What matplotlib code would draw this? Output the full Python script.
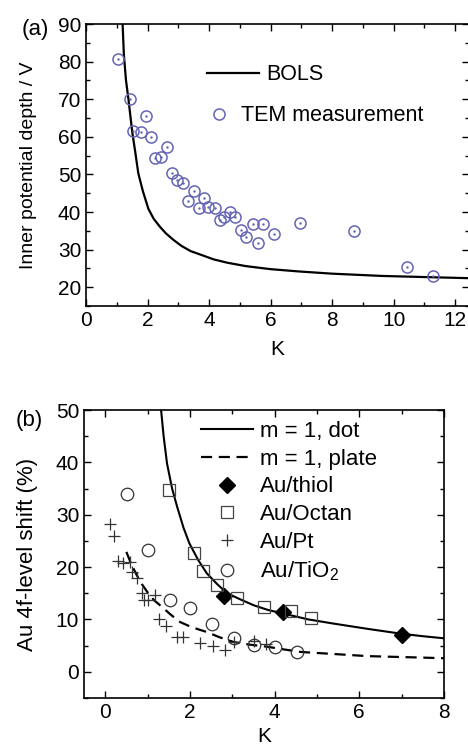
import matplotlib
matplotlib.use('Agg')
import matplotlib.pyplot as plt
from matplotlib.ticker import MultipleLocator

plt.rcParams['font.family'] = ['Liberation Sans', 'DejaVu Sans']
plt.rcParams['mathtext.default'] = 'regular'

# panel (a): TEM measurement
tem_k = [1.05, 1.43, 1.52, 1.78, 1.94, 2.1, 2.25, 2.43, 2.63, 2.81, 2.97, 3.15,
         3.5, 3.33, 3.66, 3.84, 3.98, 4.2, 4.34, 4.5, 4.69, 4.85, 5.04, 5.21,
         5.42, 5.58, 5.75, 6.1, 6.95, 8.71, 10.42, 11.28]
tem_v = [80.6, 70.0, 61.5, 61.3, 65.4, 60.0, 54.3, 54.5, 57.4, 50.5, 48.5, 47.8,
         45.6, 43.0, 41.1, 43.8, 41.2, 41.0, 38.0, 38.8, 39.9, 38.8, 35.2, 33.4,
         36.8, 31.8, 36.8, 34.1, 37.2, 35.0, 25.5, 23.0]
# BOLS curve
bols_k = [1.19, 1.23, 1.30, 1.38, 1.45, 1.51, 1.60, 1.70, 1.85, 2.03, 2.2, 2.4,
          2.6, 2.84, 3.1, 3.4, 3.71, 4.15, 4.6, 5.2, 6.0, 6.9, 8.0, 9.6, 11.0, 12.45]
bols_v = [90.0, 82.0, 75.0, 70.0, 65.0, 60.9, 56.0, 50.3, 45.5, 40.8, 38.2, 36.1,
          34.3, 32.6, 31.0, 29.6, 28.7, 27.4, 26.5, 25.6, 24.8, 24.2, 23.6, 23.0, 22.7, 22.4]

# panel (b)
thiol_k = [2.8, 4.2, 7.0]
thiol_v = [14.5, 11.5, 7.1]
octan_k = [1.50, 2.09, 2.31, 2.64, 3.11, 3.74, 4.39, 4.87]
octan_v = [34.7, 22.7, 19.2, 16.5, 14.1, 12.4, 11.6, 10.2]
pt_k = [0.12, 0.22, 0.31, 0.43, 0.59, 0.63, 0.75, 0.87, 0.91, 1.02, 1.18, 1.26,
        1.44, 1.69, 1.83, 2.23, 2.55, 2.82, 3.03, 3.51, 3.79]
pt_v = [28.2, 26.0, 21.2, 20.7, 21.0, 19.1, 18.0, 15.0, 13.7, 13.7, 14.6, 10.0,
        8.7, 6.7, 6.7, 5.5, 5.0, 4.1, 5.7, 5.9, 5.3]
tio2_k = [0.51, 1.02, 1.54, 2.01, 2.52, 3.03, 3.51, 4.02, 4.52]
tio2_v = [34.0, 23.2, 13.8, 12.1, 9.1, 6.4, 5.1, 4.8, 3.7]
dot_k = [1.32, 1.38, 1.46, 1.58, 1.70, 1.85, 1.99, 2.2, 2.40, 2.65, 2.88, 3.2,
         3.51, 3.85, 4.22, 4.8, 5.40, 6.2, 6.97, 7.5, 8.0]
dot_v = [50.0, 45.0, 39.8, 35.0, 31.5, 27.5, 24.5, 21.3, 18.8, 16.7, 15.0, 13.8,
         12.7, 11.8, 11.1, 10.0, 9.2, 8.2, 7.3, 6.8, 6.4]
plate_k = [0.50, 0.62, 0.75, 0.87, 0.99, 1.15, 1.34, 1.55, 1.77, 2.05, 2.40, 2.7,
           3.03, 3.4, 3.82, 4.2, 4.61, 5.4, 6.19, 7.1, 8.0]
plate_v = [22.9, 20.5, 18.4, 16.7, 15.3, 13.7, 12.4, 10.9, 9.5, 8.5, 7.6, 6.6,
           5.7, 5.2, 4.8, 4.3, 3.8, 3.4, 3.0, 2.8, 2.6]

fig = plt.figure(figsize=(4.68, 7.47), dpi=100)
ax1 = fig.add_axes([86/468, 1-306/747, 383/468, 282/747])
ax2 = fig.add_axes([84/468, 1-698/747, 360/468, 288/747])

blue = '#6464b4'
l_bols, = ax1.plot(bols_k, bols_v, '-', color='black', lw=1.6, label='BOLS')
l_tem, = ax1.plot(tem_k, tem_v, 'o', ms=8, mfc='none', mec=blue, mew=1.1, label='TEM measurement')
ax1.plot(tem_k, tem_v, '.', ms=1.5, color=blue)
ax1.set_xlim(0, 12.45)
ax1.set_ylim(15, 90)
ax1.xaxis.set_major_locator(MultipleLocator(2))
ax1.xaxis.set_minor_locator(MultipleLocator(1))
ax1.yaxis.set_major_locator(MultipleLocator(10))
ax1.yaxis.set_minor_locator(MultipleLocator(5))
ax1.set_xlabel('K', fontsize=15, labelpad=7)
ax1.set_ylabel('Inner potential depth / V', fontsize=14, labelpad=15)
# two legend rows placed separately, as in the original
leg1 = ax1.legend([l_bols], ['BOLS'], loc='upper left', bbox_to_anchor=(0.287, 0.895),
                  frameon=False, fontsize=15.5, borderpad=0, handlelength=2.45,
                  handletextpad=0.3)
ax1.add_artist(leg1)
ax1.legend([l_tem], ['TEM measurement'], loc='upper left', bbox_to_anchor=(0.294, 0.75),
           frameon=False, fontsize=15.5, borderpad=0, handlelength=0.9,
           handletextpad=0.55)
ax1.text(-0.133, 0.979, '(a)', transform=ax1.transAxes, fontsize=16, ha='center', va='center')

ax2.plot(dot_k, dot_v, '-', color='black', lw=1.5, label='m = 1, dot')
ax2.plot(plate_k, plate_v, color='black', lw=1.6, ls=(0, (5, 3)), label='m = 1, plate')
ax2.plot(thiol_k, thiol_v, 'D', ms=8, color='black', label='Au/thiol')
ax2.plot(octan_k, octan_v, 's', ms=8, mfc='none', mec='#444444', mew=0.9, label='Au/Octan')
ax2.plot(pt_k, pt_v, '+', ms=8, color='#333333', mew=0.9, label='Au/Pt')
ax2.plot(tio2_k, tio2_v, 'o', ms=9, mfc='none', mec='#333333', mew=0.9, label='Au/TiO$_2$')
ax2.set_xlim(-0.5, 8)
ax2.set_ylim(-5, 50)
ax2.xaxis.set_major_locator(MultipleLocator(2))
ax2.xaxis.set_minor_locator(MultipleLocator(1))
ax2.yaxis.set_major_locator(MultipleLocator(10))
ax2.yaxis.set_minor_locator(MultipleLocator(5))
ax2.set_xlabel('K', fontsize=15, labelpad=4)
ax2.set_ylabel('Au 4f-level shift (%)', fontsize=16, labelpad=13)
ax2.legend(loc='upper left', bbox_to_anchor=(0.294, 1.0), frameon=False, fontsize=16,
           borderpad=0, handlelength=2.35, handletextpad=0.3, labelspacing=0.3)
ax2.text(-0.153, 0.965, '(b)', transform=ax2.transAxes, fontsize=16, ha='center', va='center')

for ax in (ax1, ax2):
    ax.tick_params(which='both', direction='in', top=True, right=True, labelsize=15)
    ax.tick_params(which='major', length=5, width=1)
    ax.tick_params(which='minor', length=3, width=1)
    for s in ax.spines.values():
        s.set_linewidth(1.2)

fig.savefig('out.png', dpi=100)
